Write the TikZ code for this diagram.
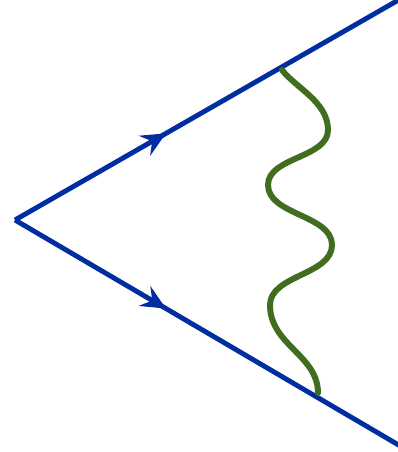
\documentclass[tikz,border=0pt]{standalone}
\usepackage{tikz}
\usetikzlibrary{arrows.meta,decorations.markings}
\definecolor{fermion}{RGB}{0,45,160}
\definecolor{photon}{RGB}{65,110,30}

\begin{document}
\begin{tikzpicture}[x=0.02cm,y=-0.02cm,
    fermionline/.style={draw=fermion,line width=2.8pt,
      postaction={decorate},
      decoration={markings,mark=at position 0.39 with {\arrow[fermion]{Stealth[length=14pt,width=13pt,inset=5pt]}}}},
    photonline/.style={draw=photon,line width=3.4pt,line cap=round}]
      \useasboundingbox (0,0) rectangle (398,452);
      \coordinate (v) at (15,220);
      \coordinate (qin) at (402,-2);
      \coordinate (qout) at (402,447);
      \coordinate (g1) at (282,70);
      \coordinate (g2) at (318,393);
      
      \draw[fermionline] (v) -- (qin);
      \draw[fermionline] (v) -- (qout);
      
      \draw[photonline] (g1) .. controls (296,88) and (328,102) .. (328,130)
        .. controls (328,158) and (268,157) .. (268,185)
        .. controls (268,215) and (332,215) .. (332,245)
        .. controls (332,275) and (270,275) .. (270,305)
        .. controls (270,345) and (318,355) .. (g2);
    \end{tikzpicture}
\end{document}
